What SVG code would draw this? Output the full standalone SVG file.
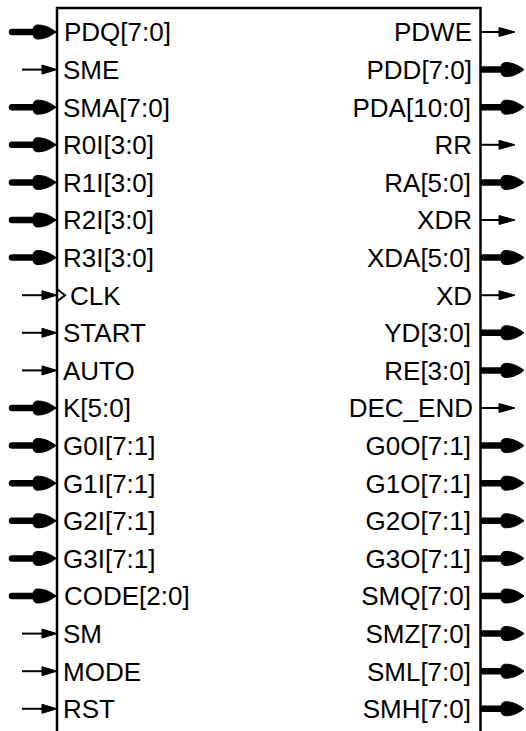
<svg xmlns="http://www.w3.org/2000/svg" xmlns:xlink="http://www.w3.org/1999/xlink" width="526" height="731" viewBox="0 0 526 731">
<style>
.box{fill:#fff;stroke:#000;stroke-width:2.5}
.lbl{font-family:"Liberation Sans",Arial,Helvetica,sans-serif;font-size:26px;fill:#000}
.l{text-anchor:start}
.r{text-anchor:end}
.bl{stroke:#000;stroke-width:6.5;stroke-linecap:round;fill:none}
.th{stroke:#000;stroke-width:2;fill:none}
.hd{fill:#000;stroke:#000;stroke-width:1;stroke-linejoin:round}
</style>
<defs>
<g id="busL"><path class="bl" d="M12,0 H40"/><path class="hd" d="M56,0 C52,-3 46,-7 38,-7 C34,-7 33,-5 33,0 C33,5 34,7 38,7 C46,7 52,3 56,0 Z"/></g>
<g id="sigL"><path class="th" d="M22,0 H45"/><path class="hd" d="M57,0 L42,-4.5 L42,4.5 Z"/></g>
<g id="busR"><path class="bl" d="M483,0 H506"/><path class="hd" d="M524,0 C520,-3 514,-7 506,-7 C502,-7 501,-5 501,0 C501,5 502,7 506,7 C514,7 520,3 524,0 Z"/></g>
<g id="sigR"><path class="th" d="M481,0 H503"/><path class="hd" d="M515,0 L499,-4.5 L499,4.5 Z"/></g>
</defs>
<g id="block">
<rect class="box" x="57" y="8" width="423.5" height="740"/>
<path d="M57.5,289.5 L65,295.2 L57.5,301" fill="none" stroke="#000" stroke-width="2"/>
<g class="lbl l">
<text x="64" y="41.3">PDQ[7:0]</text>
<text x="63" y="78.9">SME</text>
<text x="63" y="116.5">SMA[7:0]</text>
<text x="63" y="154.1">R0I[3:0]</text>
<text x="63" y="191.7">R1I[3:0]</text>
<text x="63" y="229.3">R2I[3:0]</text>
<text x="63" y="266.9">R3I[3:0]</text>
<text x="70" y="304.5">CLK</text>
<text x="63" y="342.1">START</text>
<text x="63" y="379.7">AUTO</text>
<text x="63" y="417.3">K[5:0]</text>
<text x="63" y="454.9">G0I[7:1]</text>
<text x="63" y="492.5">G1I[7:1]</text>
<text x="63" y="530.1">G2I[7:1]</text>
<text x="63" y="567.7">G3I[7:1]</text>
<text x="64" y="605.3">CODE[2:0]</text>
<text x="63" y="642.9">SM</text>
<text x="63" y="680.5">MODE</text>
<text x="63" y="718.1">RST</text>
</g>
<g class="lbl r">
<text x="472" y="41.3">PDWE</text>
<text x="472" y="78.9">PDD[7:0]</text>
<text x="471" y="116.5">PDA[10:0]</text>
<text x="472" y="154.1">RR</text>
<text x="471" y="191.7">RA[5:0]</text>
<text x="472" y="229.3">XDR</text>
<text x="471" y="266.9">XDA[5:0]</text>
<text x="472" y="304.5">XD</text>
<text x="471" y="342.1">YD[3:0]</text>
<text x="471" y="379.7">RE[3:0]</text>
<text x="473" y="417.3">DEC_END</text>
<text x="471" y="454.9">G0O[7:1]</text>
<text x="471" y="492.5">G1O[7:1]</text>
<text x="471" y="530.1">G2O[7:1]</text>
<text x="471" y="567.7">G3O[7:1]</text>
<text x="471" y="605.3">SMQ[7:0]</text>
<text x="471" y="642.9">SMZ[7:0]</text>
<text x="471" y="680.5">SML[7:0]</text>
<text x="471" y="718.1">SMH[7:0]</text>
</g>
</g>
<g id="connectors">
<use xlink:href="#busL" y="32"/>
<use xlink:href="#sigL" y="69.6"/>
<use xlink:href="#busL" y="107.2"/>
<use xlink:href="#busL" y="144.8"/>
<use xlink:href="#busL" y="182.4"/>
<use xlink:href="#busL" y="220"/>
<use xlink:href="#busL" y="257.6"/>
<use xlink:href="#sigL" y="295.2"/>
<use xlink:href="#sigL" y="332.8"/>
<use xlink:href="#sigL" y="370.4"/>
<use xlink:href="#busL" y="408"/>
<use xlink:href="#busL" y="445.6"/>
<use xlink:href="#busL" y="483.2"/>
<use xlink:href="#busL" y="520.8"/>
<use xlink:href="#busL" y="558.4"/>
<use xlink:href="#busL" y="596"/>
<use xlink:href="#sigL" y="633.6"/>
<use xlink:href="#sigL" y="671.2"/>
<use xlink:href="#sigL" y="708.8"/>
<use xlink:href="#sigR" y="32"/>
<use xlink:href="#busR" y="69.6"/>
<use xlink:href="#busR" y="107.2"/>
<use xlink:href="#sigR" y="144.8"/>
<use xlink:href="#busR" y="182.4"/>
<use xlink:href="#sigR" y="220"/>
<use xlink:href="#busR" y="257.6"/>
<use xlink:href="#sigR" y="295.2"/>
<use xlink:href="#busR" y="332.8"/>
<use xlink:href="#busR" y="370.4"/>
<use xlink:href="#sigR" y="408"/>
<use xlink:href="#busR" y="445.6"/>
<use xlink:href="#busR" y="483.2"/>
<use xlink:href="#busR" y="520.8"/>
<use xlink:href="#busR" y="558.4"/>
<use xlink:href="#busR" y="596"/>
<use xlink:href="#busR" y="633.6"/>
<use xlink:href="#busR" y="671.2"/>
<use xlink:href="#busR" y="708.8"/>
</g>
</svg>
